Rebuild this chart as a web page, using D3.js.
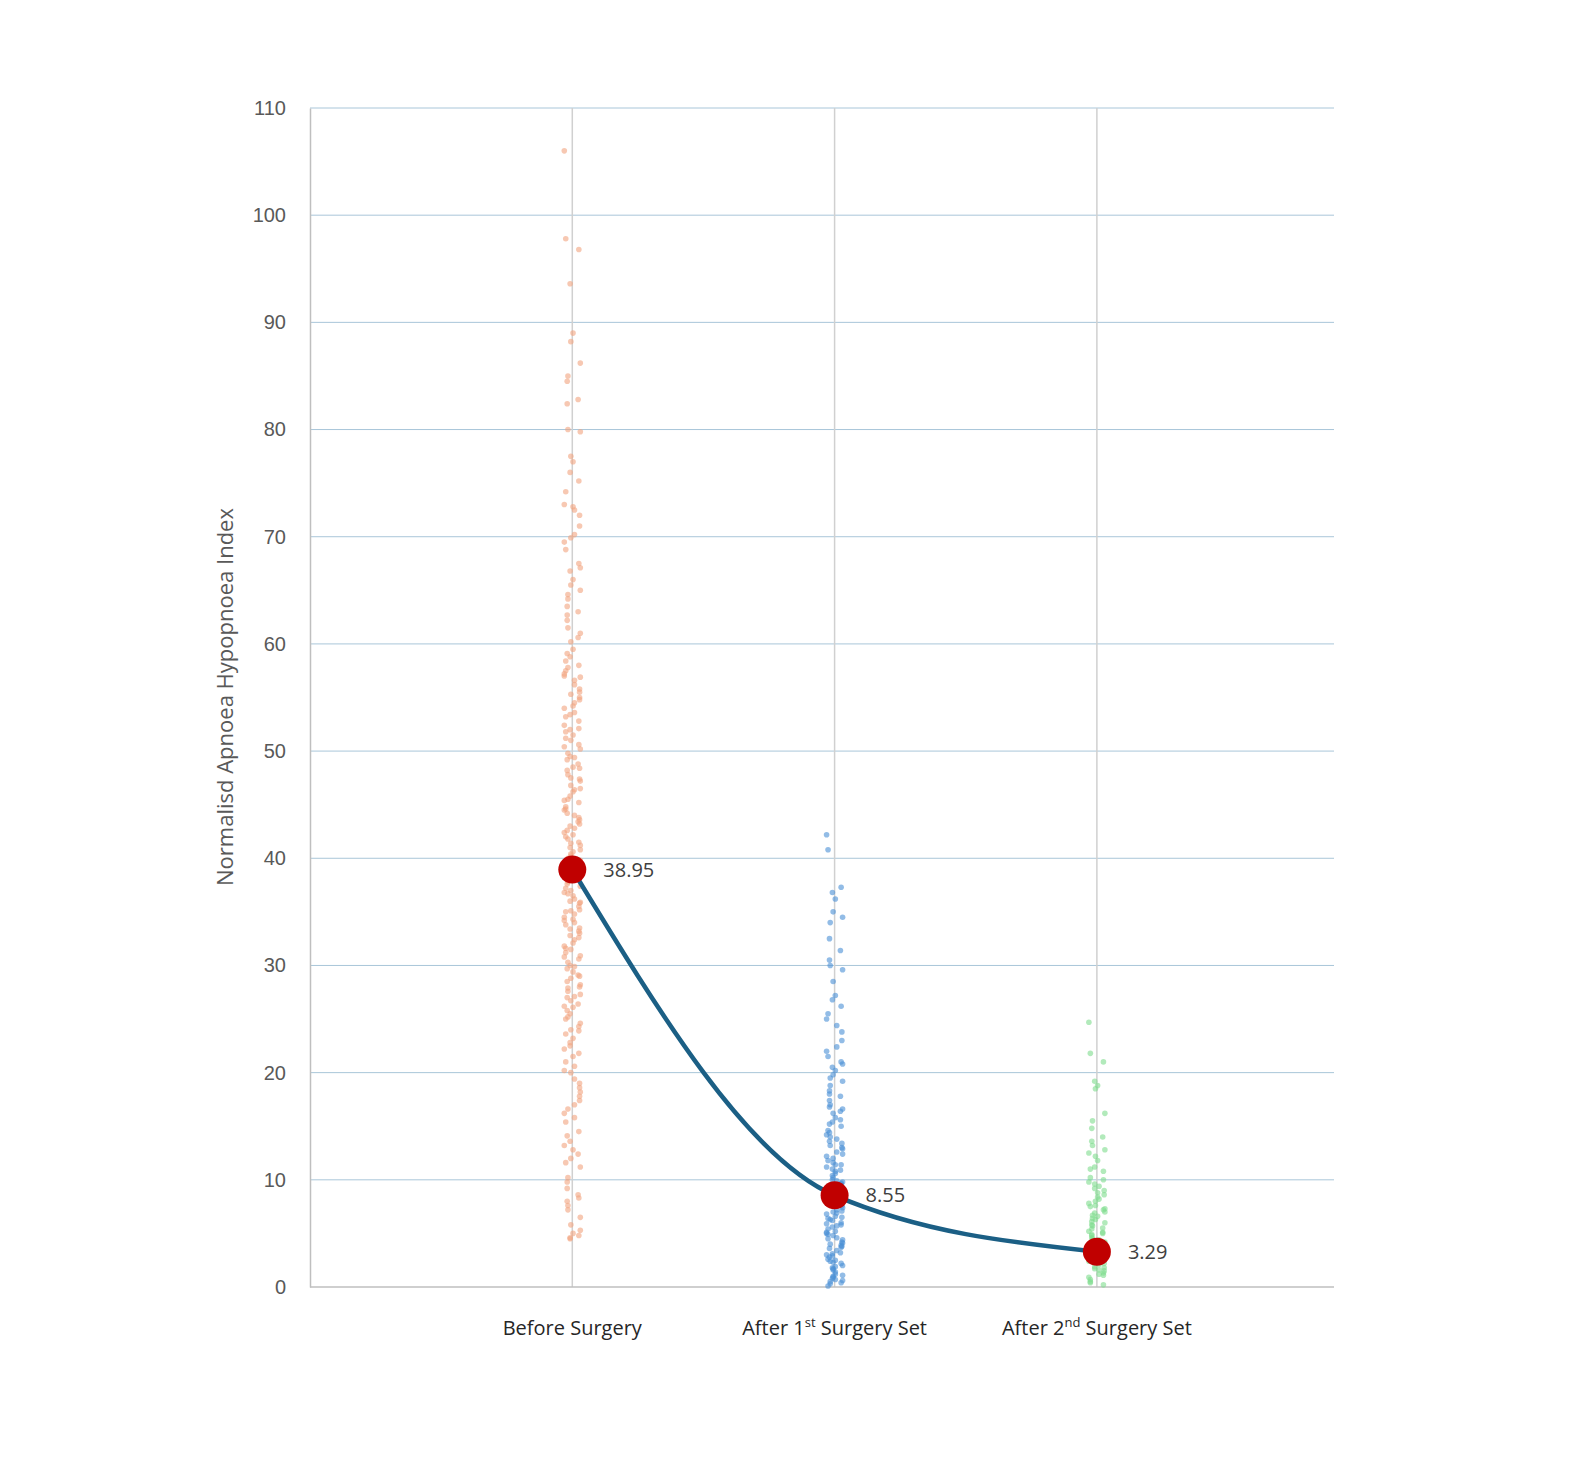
<!DOCTYPE html>
<html lang="en">
<head>
<meta charset="utf-8">
<title>Normalised AHI before and after surgery</title>
<script src="https://d3js.org/d3.v7.min.js"></script>
<style>
  html, body { margin: 0; padding: 0; overflow: hidden; background: #fff; font-family: "Open Sans", "Liberation Sans", sans-serif; }
  svg { display: block; }
  .tick text { fill: #595959; font-size: 20px; }
</style>
</head>
<body>
<div id="chart"></div>
<script>
var categories = ["Before Surgery", "After 1st Surgery Set", "After 2nd Surgery Set"];
var means = [38.95, 8.55, 3.29];
var yTicks = [0, 10, 20, 30, 40, 50, 60, 70, 80, 90, 100, 110];

var beforeValues = [106, 97.8, 96.8, 93.6, 89, 88.2, 86.2, 85, 84.5, 82.8, 82.4, 80, 79.8, 77.5, 77, 76, 75.2, 74.2, 73, 72.5, 72, 71, 70.2, 69.5, 68.8, 67.5, 66.8, 66, 65.5, 65, 64.2, 63.5, 63, 62.2, 61.5, 61, 60.2, 59.5, 58.8, 58, 57.5, 57, 56.2, 55.5, 55, 54.5, 54, 53.2, 52.8, 52, 51.5, 51, 50.2, 49.8, 49.2, 48.8, 48.2, 47.8, 47.2, 46.8, 46.2, 45.8, 45.2, 44.8, 44.5, 44, 43.6, 43.2, 42.8, 42.4, 42, 41.5, 41, 40.6, 40.2, 39.8, 39.4, 39, 38.6, 38.2, 37.8, 37.4, 37, 36.5, 36, 35.5, 35, 34.5, 34, 33.5, 33, 32.4, 31.8, 31.2, 30.6, 30, 29.4, 28.8, 28.2, 27.6, 27, 26.4, 25.8, 25.2, 24.6, 24, 23.2, 22.5, 21.8, 21, 20.2, 19.4, 18.6, 17.8, 17, 16.2, 15.4, 14.5, 13.6, 12.8, 12, 11.2, 10.2, 9.2, 8.6, 8, 7.2, 6.5, 5.8, 5, 4.6, 4.8,
  58.4, 57.2, 56.6, 55.8, 54.8, 53.6, 52.4, 51.8, 50.6, 49.5, 48.5, 47.5, 46.5, 45.5, 44.2, 43.4, 42.6, 41.8, 41.2, 40.4, 39.6, 38.8, 38, 37.2, 36.8, 36.2, 35.8, 35.2, 34.8, 34.2, 33.8, 33.2, 32.8, 32.1, 31.5, 30.9, 30.3, 29.7, 29.1, 28.5, 27.9, 27.3, 26.7, 26.1, 25.5, 24.3, 23.6, 22.2, 20.6, 19, 17.4, 15.8, 13.2, 11.6, 8.3, 4.5,
  72.8, 69.9, 67.1, 64.6, 62.7, 60.6, 59.1, 57.8, 56.9, 55.3, 54.2, 53.4, 52.1, 51.2, 50.4, 49.4, 48.4, 47.4, 46.4, 45.4, 44.6, 43.8, 43, 42.2, 41.4, 40.8, 40, 39.2, 38.4, 37.6, 36.7, 35.9, 35.1, 34.3, 33.4, 32.6, 31.6, 30.8, 29.9, 29, 28, 27.1, 26.2, 25, 23.9, 22.8, 21.5, 20, 18.2, 16.6, 14.1, 12.4, 9.8, 7.6, 5.3];
var after1Values = [42.2, 40.8, 37.3, 36.8, 36.2, 35, 34.5, 34, 32.5, 31.4, 30.5, 30, 29.6, 28.5, 27.2, 26.8, 26.2, 25.5, 25, 24.4, 23.8, 23, 22.4, 22, 21.5, 21, 20.5, 20.2, 19.8, 19.2, 18.8, 18.3, 17.8, 17.4, 17, 16.6, 16.2, 15.8, 15.4, 15, 14.6, 14.2, 13.8, 13.4, 13, 12.6, 12.2, 11.8, 11.4, 11, 10.6, 10.2, 9.8, 9.4, 9, 8.6, 8.2, 7.8, 7.4, 7, 6.6, 6.2, 5.8, 5.4, 5, 4.6, 4.2, 3.8, 3.4, 3, 2.6, 2.2, 1.8, 1.4, 1, 0.6, 0.3,
  16.8, 15.6, 14.4, 13.2, 12.4, 11.6, 10.8, 10, 9.6, 9.2, 8.8, 8.4, 8, 7.6, 7.2, 6.8, 6.4, 6, 5.6, 5.2, 4.8, 4.4, 4, 3.6, 3.2, 2.8, 2.4, 2, 1.6, 1.2, 0.8, 0.4, 0.1, 11.2, 9.9, 8.9, 7.9, 6.9, 5.9, 4.9, 3.9, 2.9, 1.9, 0.9,
  20.8, 19.5, 18, 16.4, 15.2, 14, 12.9, 12, 11.4, 10.4, 9.7, 9.1, 8.5, 7.7, 7.1, 6.5, 5.7, 5.1, 4.5, 3.7, 3.1, 2.5, 1.7, 1.1, 0.5, 13.6, 10.9, 8.7, 6.3, 4.1, 2.3, 0.7];
var after2Values = [24.7, 21.8, 21, 19.2, 18.8, 18.5, 16.2, 15.5, 14.8, 14, 13.6, 13.2, 12.8, 12.2, 11.8, 11.2, 10.8, 10.2, 9.8, 9.4, 9, 8.6, 8.2, 7.8, 7.5, 7.2, 6.9, 6.6, 6.3, 6, 5.7, 5.4, 5.1, 4.8, 4.5, 4.2, 3.9, 3.6, 3.3, 3, 2.7, 2.4, 2.1, 1.8, 1.5, 1.2, 0.9, 0.5, 0.2,
  9.6, 8.8, 8, 7.3, 6.7, 6.1, 5.5, 4.9, 4.3, 3.7, 3.1, 2.5, 1.9, 1.3, 0.7, 5.2, 4.4, 3.4, 2.2, 1.6,
  12.5, 11, 10, 9.2, 8.4, 7.6, 7, 6.4, 5.8, 5, 4.6, 4, 3.5, 2.9, 2.3, 1.7, 1.1, 0.4];

var groups = [
  { values: beforeValues, color: "#f2a47e" },
  { values: after1Values, color: "#4a8fd6" },
  { values: after2Values, color: "#7edc8e" }
];

var w = 1592, h = 1464;
var svg = d3.select("#chart").append("svg").attr("width", w).attr("height", h);

var xScale = d3.scaleLinear().domain([0, 3.904]).range([310, 1334]);
var yScale = d3.scaleLinear().domain([0, 110]).range([1287, 108]);

// horizontal grid
svg.append("g").selectAll("line").data(yTicks.slice(1)).enter().append("line")
  .attr("x1", 310).attr("x2", 1334)
  .attr("y1", d => yScale(d)).attr("y2", d => yScale(d))
  .attr("stroke", "#a9c6d9").attr("stroke-width", 1);

// vertical grid at categories
svg.append("g").selectAll("line").data(categories).enter().append("line")
  .attr("x1", (d, i) => xScale(i + 1)).attr("x2", (d, i) => xScale(i + 1))
  .attr("y1", 108).attr("y2", 1287)
  .attr("stroke", "#d0d0d0").attr("stroke-width", 1.5);

// axes
var yAxis = d3.axisLeft(yScale).tickValues(yTicks).tickSize(0).tickPadding(24);
var gy = svg.append("g").attr("transform", "translate(310,0)").call(yAxis);
gy.select(".domain").attr("stroke", "#bfbfbf").attr("stroke-width", 1.5);

svg.append("line").attr("x1", 310).attr("x2", 1334).attr("y1", 1287).attr("y2", 1287)
  .attr("stroke", "#bfbfbf").attr("stroke-width", 1.5);

// points, spread sideways by a fixed scatter pattern
function spread(i) { return ((i * i * 31 + i * 17) % 23) / 22 - 0.5; }
groups.forEach(function(g, gi) {
  svg.append("g").selectAll("circle").data(g.values).enter().append("circle")
    .attr("cx", (d, i) => xScale(gi + 1) + spread(i) * 16)
    .attr("cy", d => yScale(d))
    .attr("r", 2.8)
    .attr("fill", g.color)
    .attr("opacity", 0.6);
});

// mean line
var line = d3.line()
  .x((d, i) => xScale(i + 1))
  .y(d => yScale(d))
  .curve(d3.curveMonotoneX);
svg.append("path").datum(means).attr("d", line)
  .attr("fill", "none").attr("stroke", "#1b5f85").attr("stroke-width", 4.5);

svg.append("g").selectAll("circle").data(means).enter().append("circle")
  .attr("cx", (d, i) => xScale(i + 1)).attr("cy", d => yScale(d))
  .attr("r", 14).attr("fill", "#c00000");

svg.append("g").selectAll("text").data(means).enter().append("text")
  .attr("x", (d, i) => xScale(i + 1) + 31).attr("y", d => yScale(d) + 7)
  .attr("font-size", 20).attr("fill", "#404040")
  .text(d => d.toFixed(2));

// category labels with superscripts
var labelParts = [["Before Surgery"], ["After 1", "st", " Surgery Set"], ["After 2", "nd", " Surgery Set"]];
labelParts.forEach(function(parts, i) {
  var t = svg.append("text").attr("x", xScale(i + 1)).attr("y", 1335)
    .attr("text-anchor", "middle").attr("font-size", 20).attr("fill", "#262626");
  t.append("tspan").text(parts[0]);
  if (parts.length > 1) {
    t.append("tspan").attr("font-size", 13).attr("dy", -8).text(parts[1]);
    t.append("tspan").attr("dy", 8).text(parts[2]);
  }
});

// y title
svg.append("text")
  .attr("transform", "translate(233,697) rotate(-90)")
  .attr("text-anchor", "middle").attr("font-size", 22).attr("fill", "#595959")
  .text("Normalisd Apnoea Hypopnoea Index");
</script>
</body>
</html>
